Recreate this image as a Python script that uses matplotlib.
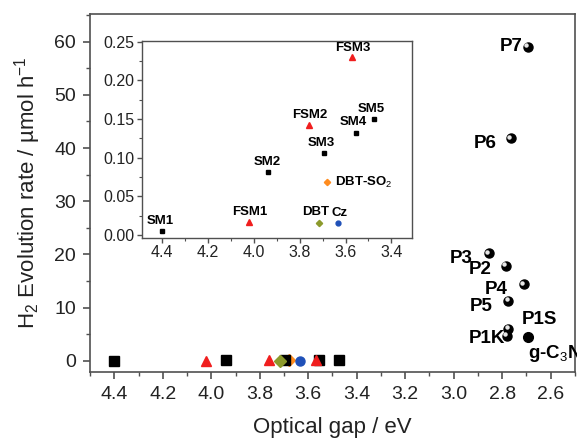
import matplotlib
matplotlib.use("Agg")
import matplotlib.pyplot as plt
import matplotlib.transforms as mtransforms
from matplotlib.ticker import MultipleLocator

plt.rcParams['font.family'] = ['Liberation Sans', 'DejaVu Sans']
plt.rcParams['mathtext.fontset'] = 'custom'
plt.rcParams['mathtext.rm'] = 'Liberation Sans'
plt.rcParams['mathtext.it'] = 'Liberation Sans:italic'
plt.rcParams['mathtext.bf'] = 'Liberation Sans:bold'

# ---- data ----
sm_names = ["SM1", "SM2", "SM3", "SM4", "SM5"]
sm_gap = [4.40, 3.94, 3.695, 3.555, 3.475]
sm_rate = [0.005, 0.0815, 0.106, 0.132, 0.150]

fsm_names = ["FSM1", "FSM2", "FSM3"]
fsm_gap = [4.02, 3.76, 3.57]
fsm_rate = [0.017, 0.142, 0.230]

dbt_gap = [3.715]
dbt_rate = [0.016]
cz_gap = [3.635]
cz_rate = [0.015]
dbtso2_gap = [3.68]
dbtso2_rate = [0.068]

p_names = ["P7", "P6", "P3", "P2", "P4", "P5", "P1S", "P1K"]
p_gap = [2.695, 2.765, 2.855, 2.785, 2.712, 2.775, 2.775, 2.78]
p_rate = [59.0, 41.8, 20.2, 17.9, 14.4, 11.3, 6.0, 4.7]

gcn_gap = [2.695]
gcn_rate = [4.5]

gray = "#505050"
red = "#f01e1e"
olive = "#8c9a2c"
blue = "#1f50b8"
orange = "#ff8c1e"

fig = plt.figure(figsize=(5.77, 4.43), dpi=100)
ax = fig.add_axes([0.156, 0.1603, 0.8405, 0.8081])

# main small molecules
ax.plot(dbtso2_gap, dbtso2_rate, 'D', color=orange, ms=6, ls='none', zorder=2)
ax.plot(sm_gap, sm_rate, 's', color='black', ms=6.5, ls='none', zorder=3)
ax.plot(fsm_gap, fsm_rate, '^', color=red, ms=7.5, ls='none', zorder=4)
ax.plot(dbt_gap, dbt_rate, 'D', color=olive, ms=6, ls='none', zorder=4)
ax.plot(cz_gap, cz_rate, 'o', color=blue, ms=6.5, ls='none', zorder=4)

# polymers (shiny spheres)
ax.plot(p_gap, p_rate, 'o', color='black', ms=6.5, ls='none', zorder=5)
hl = mtransforms.offset_copy(ax.transData, fig=fig, x=-1.2, y=1.2, units='points')
ax.plot(p_gap, p_rate, 'o', color='#e8e8e8', ms=2.2, ls='none', transform=hl, zorder=6)
ax.plot(gcn_gap, gcn_rate, 'o', color='black', ms=7, ls='none', zorder=5)

lab_kw = dict(fontsize=13.5, fontweight='bold', color='black', va='center')
ax.text(2.715, 59.0, "P7", ha='right', **lab_kw)
ax.text(2.825, 40.8, "P6", ha='right', **lab_kw)
ax.text(2.921, 19.3, "P3", ha='right', **lab_kw)
ax.text(2.845, 17.1, "P2", ha='right', **lab_kw)
ax.text(2.777, 13.4, "P4", ha='right', **lab_kw)
ax.text(2.838, 10.3, "P5", ha='right', **lab_kw)
ax.text(2.79, 4.25, "P1K", ha='right', **lab_kw)
ax.text(2.719, 7.7, "P1S", ha='left', **lab_kw)
ax.text(2.694, 1.4, "g-C$_3$N$_4$", ha='left', clip_on=False, **lab_kw)

ax.set_xlim(4.5, 2.5)
ax.set_ylim(-2.1, 65.2)
ax.xaxis.set_major_locator(MultipleLocator(0.2))
ax.xaxis.set_minor_locator(MultipleLocator(0.1))
ax.yaxis.set_major_locator(MultipleLocator(10))
ax.yaxis.set_minor_locator(MultipleLocator(5))
ax.xaxis.set_major_formatter(matplotlib.ticker.FormatStrFormatter('%.1f'))
for s in ax.spines.values():
    s.set_color(gray)
    s.set_linewidth(1.2)
ax.tick_params(which='major', direction='out', length=5, width=1.2, color=gray,
               labelsize=14, labelcolor='#222222', pad=5)
ax.tick_params(which='minor', direction='out', length=3, width=1.0, color=gray)
ax.set_xlabel("Optical gap / eV", fontsize=16, color='#222222', labelpad=10)
ax.set_ylabel("H$_2$ Evolution rate / \u00b5mol h$^{-1}$", fontsize=16, color='#222222', labelpad=8)

# ---- inset ----
ins = fig.add_axes([0.2456, 0.4634, 0.4684, 0.4447])
ins.plot(sm_gap, sm_rate, 's', color='black', ms=3.2, ls='none')
ins.plot(fsm_gap, fsm_rate, '^', color=red, ms=4, ls='none')
ins.plot(dbt_gap, dbt_rate, 'D', color=olive, ms=3.2, ls='none')
ins.plot(cz_gap, cz_rate, 'o', color=blue, ms=3.5, ls='none')
ins.plot(dbtso2_gap, dbtso2_rate, 'D', color=orange, ms=3.2, ls='none')

ik = dict(fontsize=9.5, fontweight='bold', va='center', ha='center', color='black')
ins.text(4.407, 0.018, "SM1", **ik)
ins.text(3.943, 0.0948, "SM2", **ik)
ins.text(3.704, 0.1194, "SM3", **ik)
ins.text(3.567, 0.1458, "SM4", **ik)
ins.text(3.488, 0.163, "SM5", **ik)
ins.text(4.017, 0.0302, "FSM1", **ik)
ins.text(3.755, 0.155, "FSM2", **ik)
ins.text(3.567, 0.2423, "FSM3", **ik)
ins.text(3.732, 0.0302, "DBT", **ik)
ins.text(3.626, 0.0289, "Cz", **ik)
ik2 = dict(ik)
ik2['ha'] = 'left'
ins.text(3.648, 0.0677, "DBT-SO$_2$", **ik2)

ins.set_xlim(4.49, 3.31)
ins.set_ylim(-0.0035, 0.2513)
ins.xaxis.set_major_locator(MultipleLocator(0.2))
ins.xaxis.set_minor_locator(MultipleLocator(0.1))
ins.yaxis.set_major_locator(MultipleLocator(0.05))
ins.yaxis.set_minor_locator(MultipleLocator(0.025))
ins.xaxis.set_major_formatter(matplotlib.ticker.FormatStrFormatter('%.1f'))
ins.yaxis.set_major_formatter(matplotlib.ticker.FormatStrFormatter('%.2f'))
for s in ins.spines.values():
    s.set_color(gray)
    s.set_linewidth(1.0)
ins.tick_params(which='major', direction='out', length=3.5, width=1.0, color=gray,
                labelsize=11.5, labelcolor='#222222', pad=2)
ins.tick_params(which='minor', direction='out', length=2, width=0.8, color=gray)

fig.savefig("out.png", dpi=100)
